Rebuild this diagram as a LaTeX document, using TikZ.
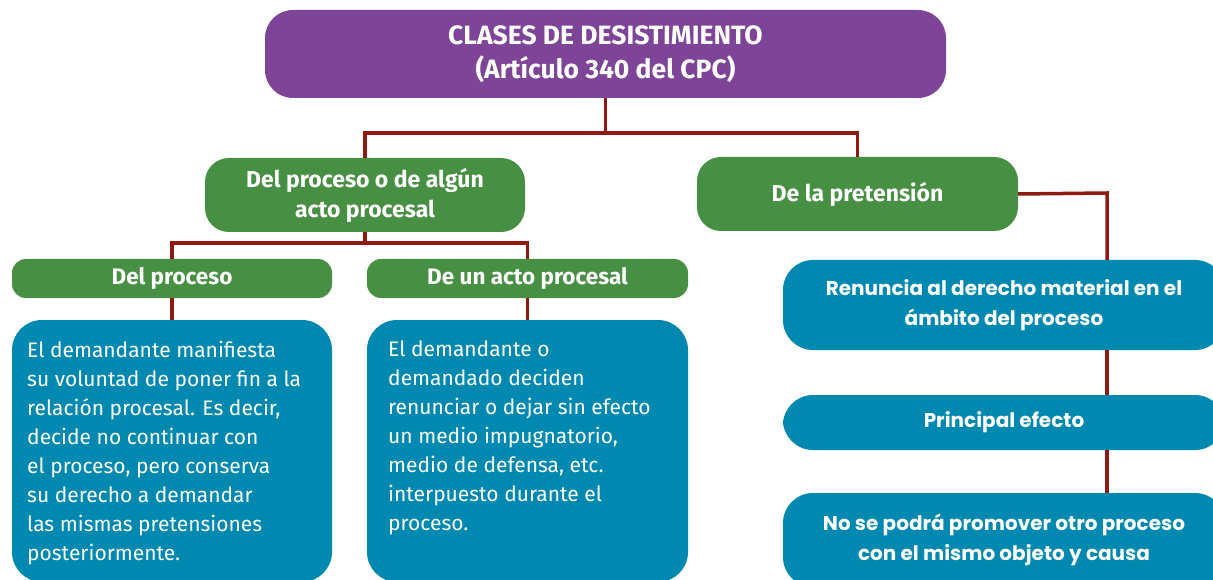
\documentclass[tikz,border=0pt]{standalone}
\usepackage{fontspec}
\setmainfont{Fira Sans}
\newfontfamily\rfont{Poppins}
\definecolor{cpurple}{HTML}{7E4498}
\definecolor{cgreen}{HTML}{478F43}
\definecolor{cblue}{HTML}{0089B0}
\definecolor{cline}{HTML}{8E1A12}
\begin{document}
\begin{tikzpicture}[x=1pt,y=-1pt,
  box/.style={inner sep=0pt, align=center, text=white},
  purplebox/.style={box, fill=cpurple, rounded corners=28pt, font=\fontsize{26.5}{34}\selectfont\bfseries},
  greenbox/.style={box, fill=cgreen, rounded corners=24pt, font=\fontsize{23}{30}\selectfont\bfseries},
  smallgreen/.style={box, fill=cgreen, rounded corners=14pt, font=\fontsize{22.5}{30}\selectfont\bfseries},
  bluebox/.style={box, fill=cblue, rounded corners=30pt},
  rbox/.style={box, fill=cblue, rounded corners=30pt, font=\rfont\fontsize{20}{30}\selectfont\bfseries},
  bodytext/.style={inner sep=0pt, align=left, text=white, font=\fontsize{21}{29}\selectfont},
  conn/.style={draw=cline, line width=3.5pt}]
\useasboundingbox (0,0) rectangle (1213,580);
% nodes
\node[purplebox, minimum width=681pt, minimum height=88pt] (top) at (605.5,54) {CLASES DE DESISTIMIENTO\\(Artículo 340 del CPC)};
\node[greenbox, minimum width=320pt, minimum height=74pt] (g1) at (365,195) {Del proceso o de algún\\acto procesal};
\node[greenbox, minimum width=321pt, minimum height=74pt] (g2) at (857.5,194) {De la pretensión};
\node[smallgreen, minimum width=320pt, minimum height=39pt] (s1) at (172,278.5) {Del proceso};
\node[smallgreen, minimum width=321pt, minimum height=39pt] (s2) at (527.5,278.5) {De un acto procesal};
\node[bluebox, minimum width=320pt, minimum height=262pt] (b1) at (172,451) {};
\node[bluebox, minimum width=321pt, minimum height=262pt] (b2) at (527.5,451) {};
\node[bodytext, anchor=north west] (t1) at (27,341) {El demandante manifiesta\\su voluntad de poner fin a la\\relación procesal. Es decir,\\decide no continuar con\\el proceso, pero conserva\\su derecho a demandar\\las mismas pretensiones\\posteriormente.};
\node[bodytext, anchor=north west] (t2) at (388,341) {El demandante o\\demandado deciden\\renunciar o dejar sin efecto\\un medio impugnatorio,\\medio de defensa, etc.\\interpuesto durante el\\proceso.};
\node[rbox, minimum width=442pt, minimum height=90pt] (r1) at (1004,305) {Renuncia al derecho material en el\\ámbito del proceso};
\node[rbox, minimum width=442pt, minimum height=55pt] (r2) at (1004,422.5) {Principal efecto};
\node[rbox, minimum width=442pt, minimum height=94pt] (r3) at (1004,540) {No se podrá promover otro proceso\\con el mismo objeto y causa};
% connectors
\coordinate (j1) at (605.5,133);
\coordinate (j2) at (365,243);
\coordinate (j3) at (1107,193);
\draw[conn] (top.south) -- (j1) -| (g1.north);
\draw[conn] (j1) -| (g2.north);
\draw[conn] (g1.south) -- (j2) -| (s1.north);
\draw[conn] (j2) -| (s2.north);
\draw[conn] (s1.south) -- (b1.north);
\draw[conn] (s2.south) -- (b2.north);
\draw[conn] (g2.east) -- (j3) -- (j3 |- r1.north);
\draw[conn] (r1.south -| j3) -- (r2.north -| j3);
\draw[conn] (r2.south -| j3) -- (r3.north -| j3);
\end{tikzpicture}
\end{document}
